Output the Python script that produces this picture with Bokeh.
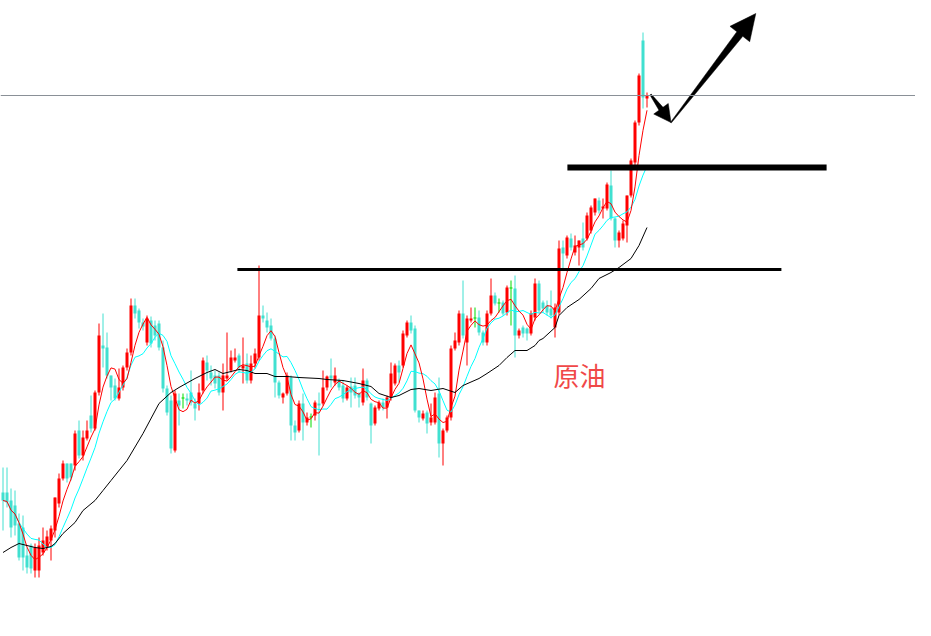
import numpy as np
import pandas as pd
from bokeh.plotting import figure
from bokeh.models import ColumnDataSource, Range1d, Span, Label
from bokeh.embed import file_html
from bokeh.resources import INLINE

# ---- candle data (price units) ----
open_ = [508, 508, 500, 495, 477, 473, 445, 455, 430, 430,
         448, 453, 460, 470, 497, 522, 537, 537, 535, 570,
         545, 562, 585, 572, 608, 655, 653, 625, 615, 602,
         613, 633, 648, 695, 690, 678, 658, 680, 675, 677,
         653, 612, 600, 550, 600, 602, 602, 608, 597, 597,
         610, 638, 628, 625, 625, 608, 622, 630, 640, 645,
         632, 637, 620, 637, 643, 685, 680, 675, 662, 618,
         603, 607, 623, 575, 570, 597, 578, 583, 585, 597,
         597, 613, 625, 618, 620, 615, 602, 614, 615, 607,
         598, 620, 597, 577, 592, 598, 593, 603, 617, 635,
         635, 665, 678, 672, 590, 582, 588, 578, 578, 607,
         557, 570, 583, 652, 658, 687, 658, 680, 682, 683,
         668, 658, 687, 705, 697, 698, 688, 712, 712, 665,
         673, 672, 667, 683, 717, 698, 695, 692, 673, 688,
         753, 745, 762, 748, 753, 762, 762, 770, 788, 800,
         792, 792, 815, 782, 760, 762, 775, 805, 838, 878,
         960, 902]
high = [533, 533, 512, 510, 487, 485, 453, 457, 457, 463,
        473, 470, 475, 503, 527, 540, 537, 537, 570, 580,
        570, 580, 605, 610, 677, 687, 668, 625, 622, 632,
        635, 652, 702, 702, 692, 682, 685, 684, 680, 680,
        660, 615, 605, 610, 607, 607, 607, 630, 602, 617,
        643, 645, 635, 630, 628, 637, 668, 650, 652, 647,
        663, 647, 645, 652, 735, 695, 688, 682, 665, 620,
        608, 628, 625, 580, 600, 607, 588, 587, 600, 608,
        630, 625, 642, 633, 622, 620, 615, 623, 623, 608,
        632, 622, 598, 595, 600, 602, 605, 638, 637, 640,
        670, 680, 685, 675, 590, 590, 590, 597, 608, 623,
        572, 585, 655, 668, 690, 720, 685, 693, 693, 690,
        670, 690, 722, 708, 702, 700, 715, 720, 725, 672,
        675, 673, 690, 722, 720, 700, 700, 710, 697, 760,
        760, 765, 767, 765, 760, 778, 788, 795, 802, 803,
        802, 818, 830, 783, 770, 780, 805, 842, 880, 927,
        968, 908]
low = [470, 493, 463, 465, 440, 430, 427, 427, 423, 423,
       445, 450, 440, 463, 493, 520, 518, 520, 530, 542,
       540, 560, 568, 570, 605, 633, 622, 600, 600, 600,
       610, 630, 645, 682, 672, 670, 655, 653, 660, 650,
       608, 585, 547, 548, 575, 592, 595, 595, 580, 590,
       607, 620, 615, 612, 605, 590, 620, 628, 638, 628,
       617, 617, 617, 632, 640, 678, 668, 660, 603, 602,
       597, 605, 560, 560, 568, 560, 575, 573, 580, 545,
       595, 610, 613, 615, 610, 598, 600, 593, 602, 593,
       595, 600, 557, 575, 590, 590, 582, 600, 615, 618,
       633, 663, 667, 588, 578, 580, 567, 575, 576, 543,
       535, 568, 580, 650, 655, 662, 635, 678, 673, 665,
       655, 655, 685, 695, 688, 685, 685, 675, 643, 662,
       663, 660, 665, 680, 688, 688, 685, 682, 663, 685,
       732, 742, 750, 745, 735, 750, 760, 767, 785, 787,
       782, 790, 780, 753, 753, 760, 758, 803, 835, 875,
       892, 893]
close = [500, 498, 473, 475, 443, 443, 433, 432, 453, 455,
         460, 464, 472, 503, 522, 537, 522, 523, 567, 545,
         563, 570, 572, 608, 665, 652, 625, 613, 602, 613,
         633, 648, 695, 687, 678, 674, 682, 657, 665, 653,
         612, 588, 552, 607, 595, 602, 600, 598, 592, 608,
         640, 630, 622, 617, 608, 625, 625, 643, 643, 633,
         635, 620, 637, 647, 685, 682, 673, 662, 618, 605,
         607, 625, 575, 568, 597, 578, 583, 583, 598, 595,
         613, 624, 622, 625, 613, 602, 613, 608, 605, 603,
         620, 603, 575, 593, 598, 593, 603, 627, 635, 628,
         667, 678, 670, 590, 583, 587, 577, 583, 603, 557,
         570, 583, 652, 660, 687, 665, 682, 682, 682, 668,
         658, 687, 705, 697, 697, 687, 713, 712, 665, 670,
         667, 667, 687, 717, 690, 692, 688, 685, 693, 752,
         747, 763, 753, 755, 760, 753, 785, 793, 802, 790,
         794, 816, 782, 760, 768, 777, 805, 840, 878, 925,
         903, 905]

# long moving average (black), read at sampled candles
ma_long_idx = [0, 2, 4, 6, 8, 10, 12, 13, 15, 18, 20, 23, 25, 27, 31, 35, 39,
               42, 44, 48, 51, 53, 55, 59, 61, 63, 66, 68, 71, 74, 79, 81, 85,
               89, 92, 94, 97, 99, 102, 104, 107, 110, 113, 115, 119, 121, 124,
               126, 128, 131, 133, 134, 135, 138, 139, 141, 144, 147, 149, 152,
               154, 157, 159, 161]
ma_long_val = [448, 453, 457, 455, 453, 452, 454, 457, 467, 478, 490, 500, 510,
               520, 540, 567, 597, 608, 613, 622, 628, 631, 627, 631, 630, 627,
               627, 624, 624, 623, 622, 621, 620, 617, 614, 607, 603, 605, 611,
               612, 610, 612, 608, 615, 622, 627, 635, 643, 650, 650, 655, 660,
               662, 673, 685, 693, 701, 712, 722, 728, 733, 742, 755, 773]

support_level = 731
support_from, support_to = 58.6, 194.6
breakout_level = 833
breakout_from, breakout_to = 141.1, 205.9
ref_level = 905
label_text = "原油"

# hand-drawn arrows: (start index, start price) -> (tip index, tip price)
small_arrow = ((161.9, 906), (167.0, 878))
big_arrow = ((167.0, 878), (188.2, 987))

n = len(close)
idx = np.arange(n)
df = pd.DataFrame(dict(x=idx, o=open_, h=high, l=low, c=close))
df["top"] = df[["o", "c"]].max(axis=1)
df["bot"] = df[["o", "c"]].min(axis=1)
df["top"] = np.where(df["top"] - df["bot"] < 1, df["bot"] + 1, df["top"])
df["color"] = np.where(df.c > df.o, "#ff0000",
                       np.where(df.c < df.o, "#40e0d0", "#00dd00"))
ma5 = df.c.rolling(5, min_periods=1).mean()
ma10 = df.c.rolling(10, min_periods=1).mean()
src = ColumnDataSource(df)

PX_PER_IDX = 4.0  # horizontal screen pixels per candle


def arrow_patch(start, tip, w0, w1, head_len, head_half):
    """Tapered arrow polygon, computed in screen pixels, returned in data units."""
    sx, sy = start[0] * PX_PER_IDX, start[1]
    tx, ty = tip[0] * PX_PER_IDX, tip[1]
    d = np.array([tx - sx, ty - sy])
    L = np.hypot(*d)
    u = d / L
    nrm = np.array([-u[1], u[0]])
    s = np.array([sx, sy])
    t = np.array([tx, ty])
    b = t - u * head_len
    pts = [s + nrm * w0 / 2, b + nrm * w1 / 2, b + nrm * head_half, t,
           b - nrm * head_half, b - nrm * w1 / 2, s - nrm * w0 / 2]
    xs = [pt[0] / PX_PER_IDX for pt in pts]
    ys = [pt[1] for pt in pts]
    return xs, ys


p = figure(width=915, height=620, x_range=Range1d(-0.625, 228.125),
           y_range=Range1d(380, 1000), output_backend="svg",
           toolbar_location=None, min_border=0,
           x_axis_location=None, y_axis_location=None)
p.grid.visible = False
p.outline_line_color = None
p.background_fill_color = "white"
p.border_fill_color = "white"

p.add_layout(Span(location=ref_level, dimension="width",
                  line_color="#8a9097", line_width=1))

p.segment(x0="x", y0="h", x1="x", y1="l", line_color="color",
          line_width=1, source=src)
p.vbar(x="x", top="top", bottom="bot", width=0.75, fill_color="color",
       line_color=None, source=src)

p.line(idx, ma10, line_color="#00ffff", line_width=1)
p.line(idx, ma5, line_color="#ff0000", line_width=1)
p.line(ma_long_idx, ma_long_val, line_color="black", line_width=1)

p.line([support_from, support_to], [support_level, support_level],
       line_color="black", line_width=3)
p.line([breakout_from, breakout_to], [breakout_level, breakout_level],
       line_color="black", line_width=6)

xs1, ys1 = arrow_patch(small_arrow[0], small_arrow[1], 1.5, 5, 17, 9)
xs2, ys2 = arrow_patch(big_arrow[0], big_arrow[1], 1.0, 7.5, 26, 12.5)
p.patch(xs1, ys1, fill_color="black", line_color="black", line_width=0.5)
p.patch(xs2, ys2, fill_color="black", line_color="black", line_width=0.5)

p.add_layout(Label(x=137.6, y=626, text=label_text,
                   text_font="Noto Sans CJK SC",
                   text_font_size="26px", text_color="#f04848",
                   text_baseline="middle", text_align="left"))

open("out.html", "w").write(file_html(p, INLINE))
